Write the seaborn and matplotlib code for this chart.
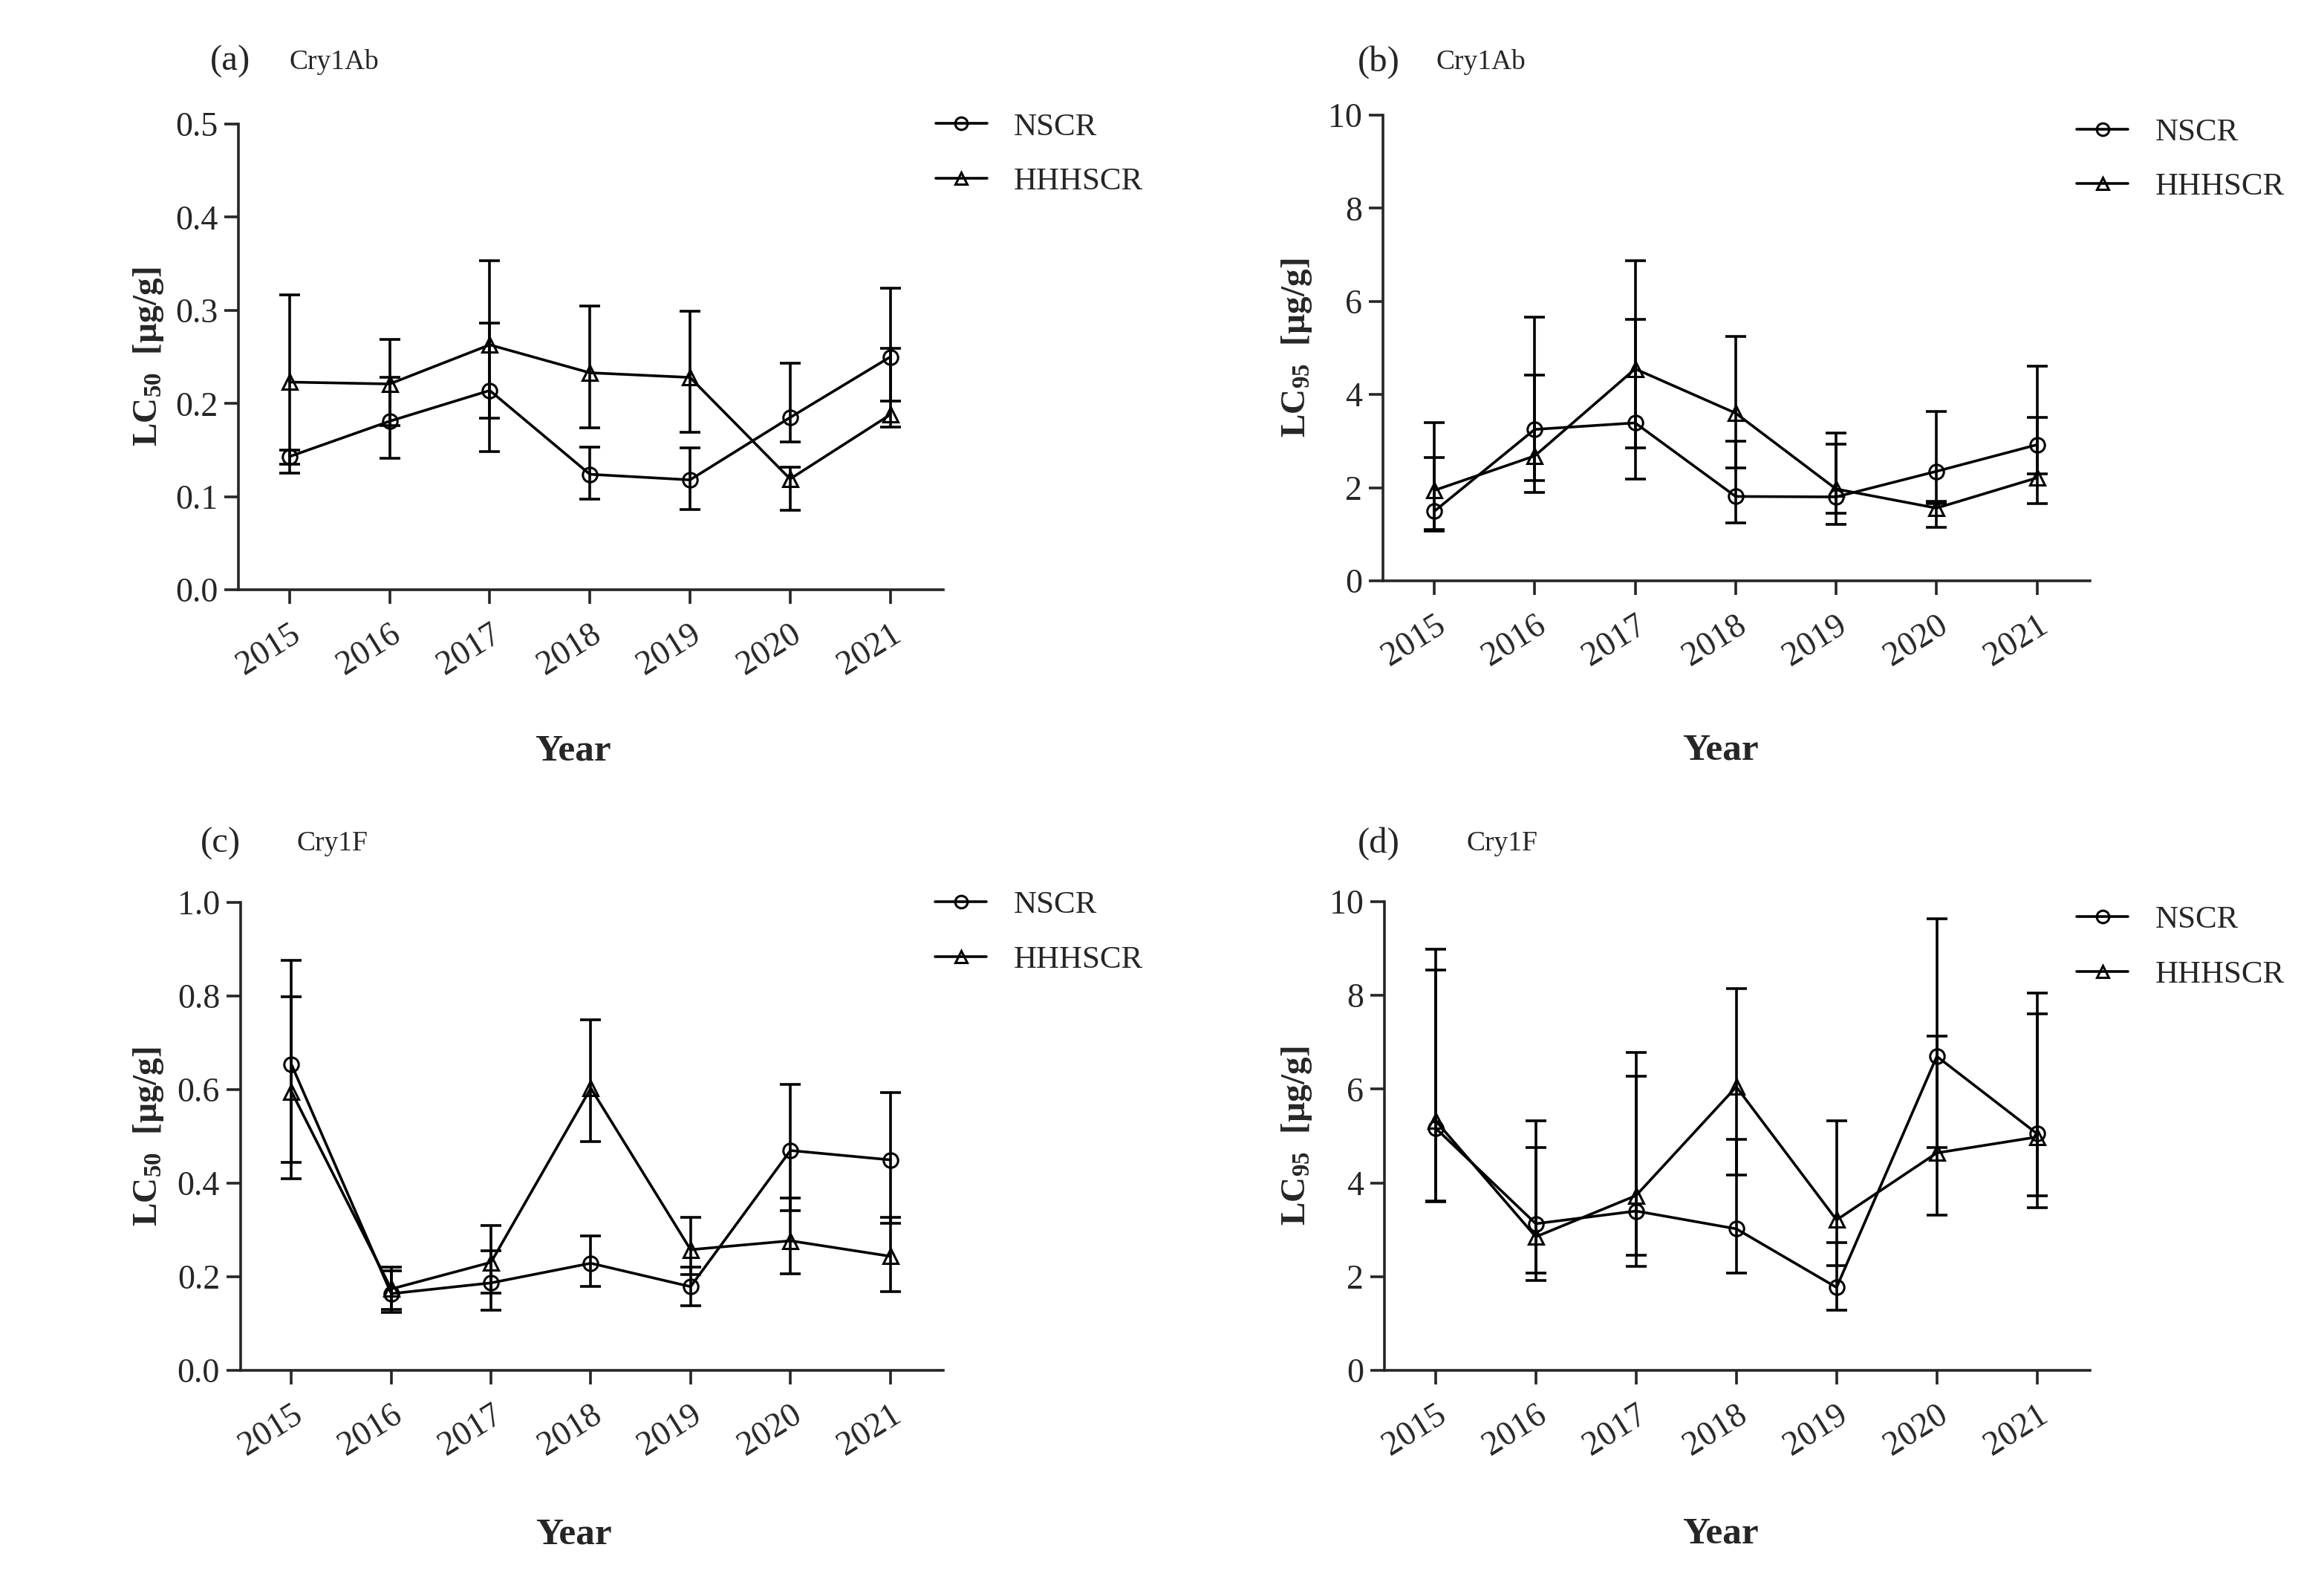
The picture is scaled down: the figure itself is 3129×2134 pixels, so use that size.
import seaborn as sns
import matplotlib.pyplot as plt
import pandas as pd
from matplotlib.lines import Line2D

years = [2015, 2016, 2017, 2018, 2019, 2020, 2021]
sites = ["NSCR", "HHHSCR"]

# (a) Cry1Ab LC50
a_ns = [0.143, 0.181, 0.214, 0.124, 0.118, 0.185, 0.250]
a_ns_lo = [0.125, 0.141, 0.148, 0.097, 0.086, 0.159, 0.203]
a_ns_hi = [0.150, 0.228, 0.286, 0.153, 0.152, 0.243, 0.324]
a_hh = [0.223, 0.221, 0.263, 0.233, 0.228, 0.119, 0.188]
a_hh_lo = [0.135, 0.176, 0.184, 0.174, 0.169, 0.085, 0.175]
a_hh_hi = [0.317, 0.269, 0.353, 0.305, 0.299, 0.132, 0.259]

# (b) Cry1Ab LC95
b_ns = [1.49, 3.25, 3.39, 1.81, 1.80, 2.35, 2.92]
b_ns_lo = [1.07, 1.90, 2.18, 1.25, 1.21, 1.66, 2.30]
b_ns_hi = [2.65, 5.66, 5.61, 2.99, 2.94, 3.63, 4.60]
b_hh = [1.94, 2.68, 4.55, 3.60, 1.97, 1.56, 2.21]
b_hh_lo = [1.10, 2.15, 2.85, 2.42, 1.45, 1.14, 1.66]
b_hh_hi = [3.39, 4.41, 6.87, 5.25, 3.17, 1.70, 3.51]

# (c) Cry1F LC50
c_ns = [0.654, 0.164, 0.187, 0.229, 0.179, 0.470, 0.450]
c_ns_lo = [0.444, 0.124, 0.129, 0.179, 0.138, 0.341, 0.315]
c_ns_hi = [0.876, 0.213, 0.255, 0.288, 0.220, 0.612, 0.594]
c_hh = [0.596, 0.174, 0.231, 0.603, 0.258, 0.277, 0.244]
c_hh_lo = [0.410, 0.131, 0.165, 0.489, 0.205, 0.207, 0.169]
c_hh_hi = [0.799, 0.220, 0.310, 0.749, 0.327, 0.368, 0.327]

# (d) Cry1F LC95
d_ns = [5.17, 3.13, 3.40, 3.02, 1.77, 6.70, 5.05]
d_ns_lo = [3.60, 2.08, 2.22, 2.08, 1.29, 4.75, 3.73]
d_ns_hi = [8.54, 5.33, 6.27, 4.93, 2.73, 9.64, 8.05]
d_hh = [5.33, 2.85, 3.73, 6.05, 3.21, 4.64, 4.98]
d_hh_lo = [3.62, 1.92, 2.45, 4.17, 2.23, 3.32, 3.47]
d_hh_hi = [8.98, 4.76, 6.79, 8.14, 5.33, 7.13, 7.61]

sns.set_style("ticks")
plt.rcParams["font.family"] = ["Liberation Serif", "DejaVu Serif"]
plt.rcParams["mathtext.default"] = "regular"

fig = plt.figure(figsize=(31.29, 21.34), dpi=100)

panels = [
    # data, axes rect, ylim, yticks, fmt, ylabel, tag, protein, tag x, protein x, text y,
    # legend anchor, xlabel pos, ylabel x
    ((a_ns, a_ns_lo, a_ns_hi, a_hh, a_hh_lo, a_hh_hi), [0.1026, 0.6279, 0.3033, 0.2938],
     0.5, [0, 0.1, 0.2, 0.3, 0.4, 0.5], "{:.1f}", "LC$_{50}$  [µg/g]", "(a)", "Cry1Ab",
     0.0904, 0.1246, 0.961, (0.989, 1.025), (0.475, -0.347), -0.1275),
    ((b_ns, b_ns_lo, b_ns_hi, b_hh, b_hh_lo, b_hh_hi), [0.5951, 0.6336, 0.3043, 0.2938],
     10, [0, 2, 4, 6, 8, 10], "{:.0f}", "LC$_{95}$  [µg/g]", "(b)", "Cry1Ab",
     0.5842, 0.618, 0.961, (0.981, 0.994), (0.477, -0.364), -0.122),
    ((c_ns, c_ns_lo, c_ns_hi, c_hh, c_hh_lo, c_hh_hi), [0.1035, 0.1354, 0.3023, 0.2952],
     1.0, [0, 0.2, 0.4, 0.6, 0.8, 1.0], "{:.1f}", "LC$_{50}$  [µg/g]", "(c)", "Cry1F",
     0.0863, 0.1278, 0.4677, (0.989, 1.025), (0.474, -0.351), -0.131),
    ((d_ns, d_ns_lo, d_ns_hi, d_hh, d_hh_lo, d_hh_hi), [0.5957, 0.1354, 0.3037, 0.2957],
     10, [0, 2, 4, 6, 8, 10], "{:.0f}", "LC$_{95}$  [µg/g]", "(d)", "Cry1F",
     0.5842, 0.631, 0.4677, (0.981, 0.992), (0.476, -0.350), -0.124),
]

markers = {"NSCR": "o", "HHHSCR": "^"}

for vals, rect, ytop, yticks, fmt, ylabel, tag, protein, tx, px, ty, anchor, xlpos, ylx in panels:
    ns, ns_lo, ns_hi, hh, hh_lo, hh_hi = vals
    df = pd.DataFrame({
        "year": years * 2,
        "value": ns + hh,
        "lo": ns_lo + hh_lo,
        "hi": ns_hi + hh_hi,
        "site": ["NSCR"] * len(years) + ["HHHSCR"] * len(years),
    })
    ax = fig.add_axes(rect)
    for s in sites:
        sub = df[df["site"] == s]
        ax.errorbar(sub["year"], sub["value"],
                    yerr=[sub["value"] - sub["lo"], sub["hi"] - sub["value"]],
                    fmt="none", ecolor="black", elinewidth=2.6, capsize=10, capthick=2.6)
    sns.lineplot(data=df, x="year", y="value", style="site", style_order=sites,
                 markers=markers, dashes=False, color="black", ax=ax, legend=False,
                 linewidth=2.6, markersize=14, markerfacecolor="none",
                 markeredgecolor="black", markeredgewidth=2.2)
    ax.set_xlim(2014.49, 2021.53)
    ax.set_ylim(0, ytop)
    ax.set_xticks(years)
    ax.set_xticklabels([str(y) for y in years], rotation=32, ha="right",
                       rotation_mode="anchor", fontsize=33)
    ax.set_yticks(yticks)
    ax.set_yticklabels([fmt.format(t) for t in yticks], fontsize=33)
    ax.tick_params(direction="out", length=14, width=2.6, pad=6)
    ax.tick_params(axis="x", pad=14)
    for sp in ["left", "bottom"]:
        ax.spines[sp].set_linewidth(2.6)
    sns.despine(ax=ax)
    ax.set_xlabel("Year", fontsize=37, fontweight="bold", va="center")
    ax.xaxis.set_label_coords(*xlpos)
    ax.set_ylabel(ylabel, fontsize=34, fontweight="bold", va="center", ha="center")
    ax.yaxis.set_label_coords(ylx, 0.5)
    handles = [Line2D([], [], color="black", lw=2.6, marker=markers[s], markersize=12,
                      markerfacecolor="none", markeredgecolor="black", markeredgewidth=2.2)
               for s in sites]
    ax.legend(handles=handles, labels=sites, loc="upper left",
              bbox_to_anchor=anchor, frameon=False, fontsize=31, borderaxespad=0,
              borderpad=0, handlelength=1.6, handletextpad=0.85, labelspacing=0.8)
    fig.text(tx, ty, tag, fontsize=35, ha="left", va="center")
    fig.text(px, ty, protein, fontsize=27, ha="left", va="center")

fig.savefig("out.png", dpi=100)
